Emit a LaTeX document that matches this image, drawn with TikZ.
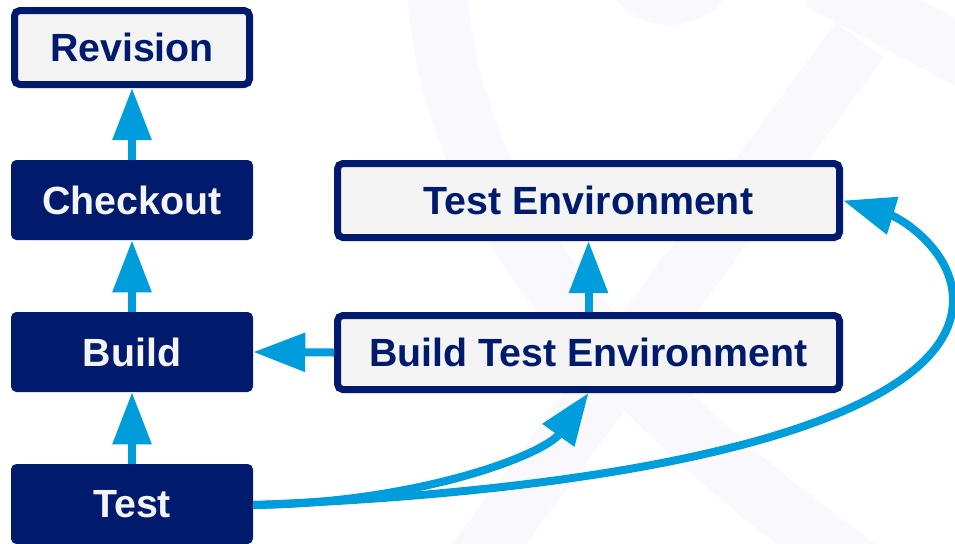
\documentclass[tikz,border=0pt]{standalone}
\usepackage{fontspec}
\setmainfont{Liberation Sans}
\usetikzlibrary{arrows.meta}
\definecolor{navy}{RGB}{0,27,110}
\definecolor{lightbox}{RGB}{244,244,244}
\definecolor{arrowblue}{RGB}{0,157,221}
\definecolor{wm}{RGB}{249,249,253}
\tikzset{
  lightnode/.style={draw=navy, line width=5.25pt, fill=lightbox, rounded corners=4pt,
    text=navy, font=\fontsize{29.5}{32}\selectfont\bfseries,
    minimum height=55.5pt, inner sep=0pt},
  darknode/.style={fill=navy, rounded corners=4pt, text=lightbox,
    font=\fontsize{29.5}{32}\selectfont\bfseries,
    minimum width=181.5pt, minimum height=60pt, inner sep=0pt},
  arr/.style={draw=arrowblue, line width=6pt,
    -{Triangle[length=39pt,width=28pt]}},
  wmband/.style={draw=wm, line width=45pt}
}
\begin{document}
\begin{tikzpicture}[x=0.75pt,y=-0.75pt]
\useasboundingbox (0,0) rectangle (955,543);
% faint watermark
\fill[wm] (670,-45) circle (70);
\draw[wmband] (437,-10) .. controls (450,200) and (600,380) .. (860,570);
\draw[wmband] (860,40) -- (470,570);
\draw[wmband] (820,-20) -- (970,60);
% nodes
\node[lightnode, minimum width=176.25pt] (rev) at (132,47.5) {Revision};
\node[darknode] (chk) at (132,200) {Checkout};
\node[darknode] (bld) at (132,352) {Build};
\node[darknode] (tst) at (132,504) {Test};
\node[lightnode, minimum width=376.5pt] (te) at (588.5,200.5) {Test Environment};
\node[lightnode, minimum width=376.5pt] (bte) at (588.5,352.5) {Build Test Environment};
% connectors
\draw[arr] (chk.north) -- (rev.south);
\draw[arr] (bld.north) -- (chk.south);
\draw[arr] (tst.north) -- (bld.south);
\draw[arr] (bte.west) -- (bld.east);
\draw[arr] (bte.north) -- (te.south);
\draw[arr] ([yshift=-0.75pt]tst.east) .. controls (420,503) and (545,454) .. (bte.south);
\draw[arr] ([yshift=-0.75pt]tst.east) .. controls (653,490) and (953,420) .. (953,300)
   .. controls (953,250) and (900,218) .. (te.east);
\end{tikzpicture}
\end{document}
